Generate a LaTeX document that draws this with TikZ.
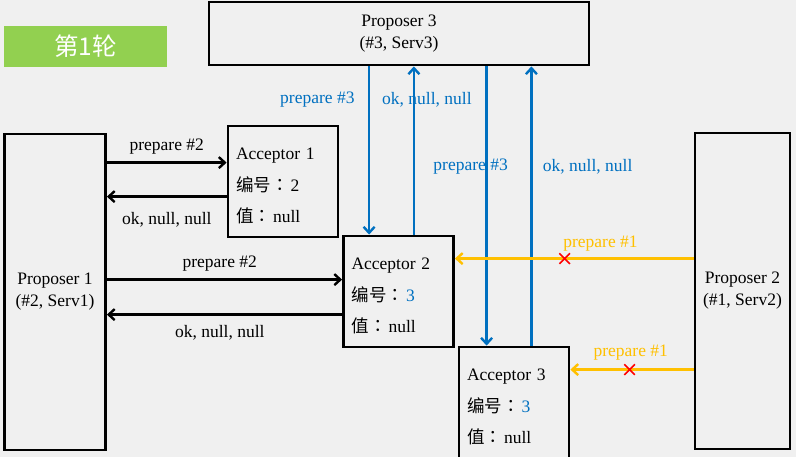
\documentclass[tikz,border=0pt]{standalone}
\usepackage{fontspec}
\setmainfont{Liberation Serif}
\newfontfamily\cjk{Noto Sans CJK SC}
\newfontfamily\cjkcolon{Noto Sans CJK TC}
\usetikzlibrary{arrows.meta,shapes.misc}
\definecolor{bgGray}{HTML}{F0F0F0}
\definecolor{okBlue}{HTML}{0070C0}
\definecolor{rejOrange}{HTML}{FFC000}
\definecolor{roundGreen}{HTML}{92D050}
\newcommand{\numlabel}{{\cjk 编号}{\cjkcolon ：}\hspace{2pt}}
\newcommand{\vallabel}{{\cjk 值}{\cjkcolon ：}\hspace{2pt}}

\begin{document}
\begin{tikzpicture}[x=1pt,y=-1pt,->,>={Straight Barb[length=6pt,width=11pt]},font=\fontsize{17.5}{22}\selectfont,boxnode/.style={rectangle,draw,line width=2.8pt,inner sep=0pt},accnode/.style={boxnode,minimum width=110pt,minimum height=111pt,align=left,text width=94pt,font=\fontsize{17.5}{31.5}\selectfont},msg/.style={line width=2.4pt},bluemsg/.style={msg,okBlue},orangemsg/.style={msg,rejOrange},xmark/.style={-,cross out,draw=red,line width=1.6pt,minimum size=9pt,inner sep=0pt}]
	
	\fill[-,bgGray,use as bounding box] (0,0) rectangle (796,457);
	\clip (0,0) rectangle (796,457);
	
	\node [-,fill=roundGreen,minimum width=163pt,minimum height=41pt,text=white,font=\cjk\fontsize{24.5}{24.5}\selectfont] (round) at (85.5, 46.5) {第1轮};
	
	\node [boxnode,minimum width=380pt,minimum height=63pt,align=center] (p3) at (399, 33.5) {Proposer 3\\(\#3, Serv3)};
	\node [boxnode,minimum width=101pt,minimum height=316pt,align=center] (p1) at (55, 292) {Proposer 1\\(\#2, Serv1)};
	\node [boxnode,minimum width=95pt,minimum height=316pt,align=center] (p2) at (742.5, 291) {Proposer 2\\(\#1, Serv2)};
	
	\node [accnode] (a1) at (283, 181.5) {\rule{0pt}{21pt}Acceptor 1\\\numlabel 2\\\vallabel null};
	\node [accnode] (a2) at (398.5, 291.5) {\rule{0pt}{21pt}Acceptor 2\\\numlabel\textcolor{okBlue}{3}\\\vallabel null};
	\node [accnode] (a3) at (514, 402.5) {\rule{0pt}{21pt}Acceptor 3\\\numlabel\textcolor{okBlue}{3}\\\vallabel null};
	
	\draw [msg] ([yshift=-38pt]a1.north west -| p1.east) to node[above=4pt] {prepare \#2} ([yshift=-38pt]a1.north west);
	\draw [msg] ([yshift=-72pt]a1.north west) to node[below=11pt] {ok, null, null} ([yshift=-72pt]a1.north west -| p1.east);
	\draw [msg] ([yshift=-45pt]a2.north west -| p1.east) to node[pos=0.48,above=4pt] {prepare \#2} ([yshift=-45pt]a2.north west);
	\draw [msg] ([yshift=-80pt]a2.north west) to node[pos=0.52,below=6pt] {ok, null, null} ([yshift=-80pt]a2.north west -| p1.east);
	
	\draw [bluemsg] ([xshift=27pt]a2.north west |- p3.south) to node[pos=0.2,left=10pt] {prepare \#3} ([xshift=27pt]a2.north west);
	\draw [bluemsg] ([xshift=-41pt]a2.north east) to node[pos=0.8,xshift=13pt] {ok, null, null} ([xshift=-41pt]a2.north east |- p3.south);
	\draw [bluemsg] ([xshift=29pt]a3.north west |- p3.south) to node[pos=0.36,xshift=-16pt] {prepare \#3} ([xshift=29pt]a3.north west);
	\draw [bluemsg] ([xshift=-39pt]a3.north east) to node[pos=0.64,right=7pt] {ok, null, null} ([xshift=-39pt]a3.north east |- p3.south);
	
	\draw [orangemsg] ([yshift=-24pt]a2.north east -| p2.west) to node[pos=0.39,above=3pt] {prepare \#1} node[xmark,pos=0.54] (xa) {} ([yshift=-24pt]a2.north east);
	\draw [orangemsg] ([yshift=-24pt]a3.north east -| p2.west) to node[pos=0.51,above=5pt] {prepare \#1} node[xmark,pos=0.52] (xb) {} ([yshift=-24pt]a3.north east);
\end{tikzpicture}
\end{document}
